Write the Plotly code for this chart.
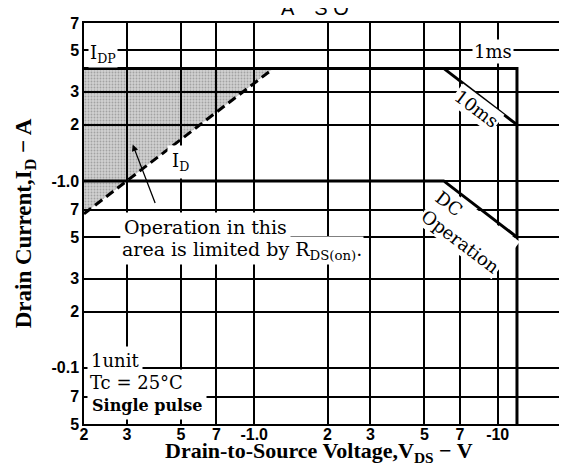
import numpy as np
import plotly.graph_objects as go

# ---- tick labels (log axes) ----
x_tickvals = [0.2, 0.3, 0.5, 0.7, 1, 2, 3, 5, 7, 10, 20]
x_ticktext = ["2", "3", "5", "7", "-1.0", "2", "3", "5", "7", "-10", "2"]
y_tickvals = [0.05, 0.07, 0.1, 0.2, 0.3, 0.5, 0.7, 1, 2, 3, 5, 7]
y_ticktext = ["5", "7", "-0.1", "2", "3", "5", "7", "-1.0", "2", "3", "5", "7"]

# ---- SOA boundaries (|V_DS| in V, |I_D| in A) ----
pulse_1ms_v = [0.2, 12, 12]
pulse_1ms_i = [4, 4, 0.05]
pulse_10ms_v = [6, 12]
pulse_10ms_i = [4, 2]
dc_v = [0.2, 6, 12]
dc_i = [1, 1, 0.5]
rds_v = [0.2, 1.2]
rds_i = [0.667, 4]
idp = 4

# shaded region limited by R_DS(on)
shade_v = [rds_v[0], rds_v[0], rds_v[1], rds_v[0]]
shade_i = [rds_i[0], idp, idp, rds_i[0]]

L = np.log10
SERIF = "DejaVu Serif"
BOLD_SERIF = "Liberation Serif"

fig = go.Figure()
fig.add_trace(go.Scatter(
    x=shade_v, y=shade_i, mode="lines", fill="toself",
    fillcolor="rgba(0,0,0,0.18)",
    fillpattern=dict(shape=".", fgcolor="rgba(0,0,0,0.45)", size=3,
                     solidity=0.3, fillmode="overlay"),
    line=dict(width=0), hoverinfo="skip", showlegend=False))
fig.add_trace(go.Scatter(x=pulse_1ms_v, y=pulse_1ms_i, mode="lines",
                         line=dict(color="black", width=3), showlegend=False))
fig.add_trace(go.Scatter(x=pulse_10ms_v, y=pulse_10ms_i, mode="lines",
                         line=dict(color="black", width=3), showlegend=False))
fig.add_trace(go.Scatter(x=dc_v, y=dc_i, mode="lines",
                         line=dict(color="black", width=3), showlegend=False))
fig.add_trace(go.Scatter(x=rds_v, y=rds_i, mode="lines",
                         line=dict(color="black", width=3, dash="9px,5px"),
                         showlegend=False))

def ann(text, x, y, size=18, **kw):
    d = dict(text=text, x=L(x), y=L(y), xref="x", yref="y", showarrow=False,
             font=dict(family=SERIF, size=size, color="black"),
             bgcolor="white", borderpad=1)
    d.update(kw)
    fig.add_annotation(**d)

ann("I<sub>DP</sub>", 0.2, 4.75, xanchor="left", xshift=4)
ann("1ms", 9.6, 4.9)
ann("10ms", 8.17, 2.44, textangle=37)
ann("DC<br>Operation", 7.54, 0.536, textangle=37, align="left")
ann("I<sub>D</sub>", 0.5, 1.27, borderpad=4)
ann("Operation in this", 0.2805, 0.569, size=19, xanchor="left", borderpad=3)
ann("area is limited by R<sub>DS(on)</sub>.", 0.2805, 0.422, size=19, xanchor="left")
ann("1unit", 0.2, 0.109, xanchor="left", xshift=3, borderpad=3)
ann("Tc = 25°C", 0.2, 0.0831, xanchor="left", xshift=3, borderpad=2)
ann("<b>Single pulse</b>", 0.2, 0.0626, size=16, xanchor="left", xshift=3, borderpad=4)

# arrow pointing into the shaded area
fig.add_annotation(x=L(0.317), y=L(1.565), xref="x", yref="y", text="",
                   showarrow=True, ax=23, ay=60, arrowhead=2, arrowsize=1,
                   arrowwidth=1.3, arrowcolor="black")

# partially visible title
fig.add_annotation(text="A\u2003S O", xref="paper", yref="paper", x=0.4745, y=1,
                   xanchor="center", yanchor="bottom", yshift=2, showarrow=False,
                   font=dict(family="Liberation Sans", size=20, color="black"))

# x-axis title
fig.add_annotation(text="<b>Drain-to-Source Voltage,V<sub>DS</sub> − V</b>",
                   xref="paper", yref="paper", x=0.4816, y=0,
                   xanchor="center", yanchor="bottom", yshift=-43, showarrow=False,
                   borderpad=0,
                   font=dict(family=BOLD_SERIF, size=22, color="black"))

axis_common = dict(
    type="log", showgrid=True, gridcolor="#000000", gridwidth=1.5,
    showline=True, linecolor="black", linewidth=1.5, mirror=True,
    ticks="", zeroline=False,
    tickfont=dict(family="Liberation Sans", size=16, color="black", weight="bold"),
)

fig.update_xaxes(**axis_common, range=[L(0.2), L(20)],
                 tickmode="array", tickvals=x_tickvals, ticktext=x_ticktext,
                 ticklabelstandoff=-5)
fig.update_yaxes(**axis_common, range=[L(0.05), L(7)],
                 tickmode="array", tickvals=y_tickvals, ticktext=y_ticktext,
                 title=dict(text="Drain Current,I<sub>D</sub> − A",
                            font=dict(family=BOLD_SERIF, size=23, color="black", weight="bold"),
                            standoff=13))

fig.update_layout(width=567, height=463, margin=dict(l=76, r=2, t=15, b=47),
                  paper_bgcolor="white", plot_bgcolor="white", showlegend=False)

fig.write_html("out.html")
